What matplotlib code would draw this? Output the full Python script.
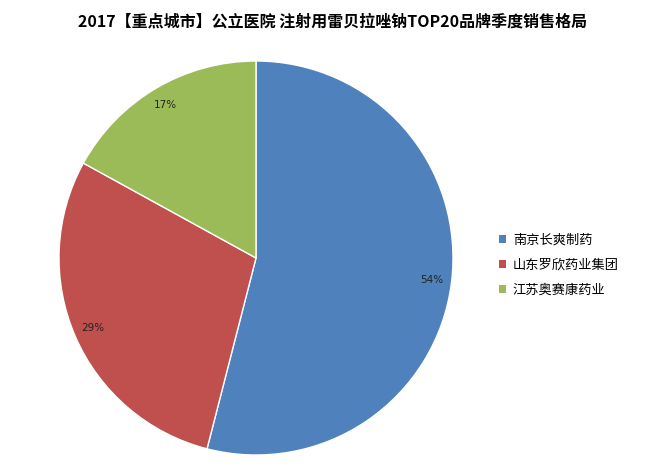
import matplotlib.pyplot as plt
from matplotlib.patches import Patch

plt.rcParams['font.family'] = ['Noto Sans CJK SC', 'DejaVu Sans']

title = '2017【重点城市】公立医院 注射用雷贝拉唑钠TOP20品牌季度销售格局'
brands = ['南京长爽制药', '山东罗欣药业集团', '江苏奥赛康药业']
shares = [54, 29, 17]
colors = ['#4F81BD', '#C0504D', '#9BBB59']

fig = plt.figure(figsize=(6.54, 4.76), dpi=100)
ax = fig.add_axes([59 / 654, 21 / 476, 394 / 654, 394 / 476])

wedges, texts, autotexts = ax.pie(
    shares, colors=colors, startangle=90, counterclock=False,
    autopct='%d%%', pctdistance=0.9,
    wedgeprops=dict(edgecolor='white', linewidth=1),
    textprops=dict(fontsize=7.5, color='#222222', family='DejaVu Sans'))
ax.set_xlim(-1, 1)
ax.set_ylim(-1, 1)
ax.set_aspect('equal')

fig.text(0.508, 0.955, title, ha='center', va='center', fontsize=11.5,
         fontweight='bold')

handles = [Patch(facecolor=c, edgecolor='none') for c in colors]
fig.legend(handles, brands, loc='center left', bbox_to_anchor=(0.745, 0.443),
           frameon=False, fontsize=9.5, handlelength=0.55, handleheight=0.55,
           handletextpad=0.5, labelspacing=0.9)

fig.savefig('out.png', dpi=100)
